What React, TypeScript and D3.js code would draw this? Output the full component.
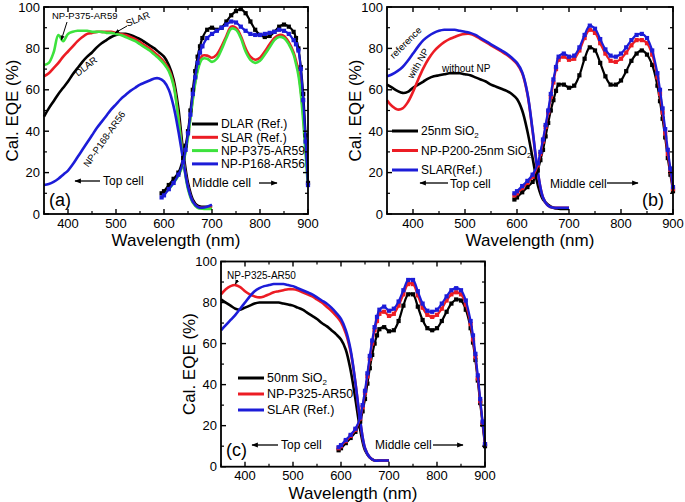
import React from "react";
import * as d3 from "d3";

// wavelengths (nm)
const topNm = d3.range(350, 701, 10);
const midNm = [595, 600, 610, 620, 630, 640, 645, 650, 655, 660, 665, 670, 675, 680, 690, 700, 710, 720, 730, 740, 750, 760, 770, 780, 790, 800, 810, 820, 830, 840, 850, 860, 870, 875, 880, 885, 890, 895, 900];

// panel (a)
const aDlarTop = [47, 51, 54.5, 58, 61, 64, 67.5, 70.5, 73.5, 76, 78, 80.5, 82.5, 84, 85.5, 86.5, 87, 87, 86.5, 85.5, 84.5, 83, 81.5, 80, 78, 76, 72, 65, 51, 30, 15, 7, 4, 3.5, 3.5, 4];
const aSlarTop = [66.5, 68, 70.5, 73, 76, 78.5, 81, 83.5, 85.5, 87, 87.5, 88, 88, 88, 88, 87.5, 87, 86.5, 85.5, 84.5, 83, 81.5, 80, 78, 76, 73.5, 70, 63, 47, 27, 13, 6, 3.5, 3, 3, 3.5];
const aP375Top = [72, 73, 78, 86.5, 83.5, 87, 88, 88.5, 88.5, 88.5, 88, 88, 88, 87.5, 87.5, 87, 86.5, 85.5, 84.5, 83.5, 82, 80.5, 79, 77, 75, 72.5, 69, 62, 46, 26, 12, 5.5, 3, 2.5, 2.5, 2.5];
const aP168Top = [14, 14.5, 15.5, 17, 19, 21, 24, 27.5, 31, 34.5, 38, 41.5, 44.5, 47.5, 50.5, 53, 55.5, 57.5, 59.5, 61, 62.5, 63.5, 64.5, 65.5, 65.5, 64, 60, 52, 40, 26, 13, 6, 3.5, 3, 3.5, 4.5];
const aDlarMid = [10, 11, 14, 17, 20, 27, 33, 40, 50, 60, 69, 76, 81, 85, 89, 90, 89, 90, 93, 96, 98, 99, 97, 93, 89, 86.5, 85.5, 86, 88, 90.5, 91.5, 90.5, 88, 85, 80, 71, 58, 38, 15];
const aSlarMid = [10, 11, 13, 16, 19, 25, 31, 38, 47, 56, 64, 70, 74, 76.5, 76.5, 75.5, 77, 81, 86, 90.5, 90, 86, 80, 76, 74.5, 75.5, 78.5, 82, 85, 86.5, 86, 83, 78, 74, 69, 60, 48, 32, 15];
const aP375Mid = [9, 10, 12, 15, 18.5, 24.5, 30, 37, 46, 55, 63, 69, 73, 75, 75, 73.5, 75, 79.5, 85, 89.5, 89, 85, 78.5, 74.5, 73, 74, 77, 80.5, 84, 85.5, 85, 82, 77, 72.5, 67, 58, 45, 29, 13];
const aP168Mid = [8, 9, 12, 15, 19, 25, 31, 39, 48, 58, 66, 73, 78, 81, 85, 87, 88.5, 90, 91.5, 93, 92.5, 90.5, 88.5, 87, 86.5, 86.5, 87, 87.5, 88, 89, 88.5, 87, 84, 82, 79, 70, 55, 35, 14];

// panel (b)
const bSio2Top = [62.5, 61, 59.5, 58.5, 59, 61, 62.5, 64, 65.5, 66.5, 67, 67.5, 68, 68, 68, 67.5, 67, 66, 65, 64, 62.5, 61.5, 60.5, 59.5, 58, 55.5, 50, 40, 27, 14, 7, 4.5, 3, 2.5, 2.5, 2.5];
const bP200Top = [55, 52, 50.5, 51, 54, 59, 65, 70.5, 75, 78.5, 81, 83, 84.5, 85.5, 86.5, 87, 87, 86, 84.5, 83, 81.5, 80, 78.5, 77, 75, 72.5, 68, 58, 40, 20, 8, 4, 3, 3, 3, 3];
const bSlarTop = [66.5, 67.5, 69, 71, 74, 77.5, 81, 84, 86, 87.5, 88.5, 89, 89, 89, 88.5, 88, 87.5, 86.5, 85, 83.5, 82, 80.5, 79, 77.5, 75.5, 73, 68.5, 58.5, 40.5, 20.5, 8, 4, 3, 3, 3, 3];
const bSio2Mid = [7, 8, 10.5, 13, 15.5, 21, 26, 31, 37.5, 44, 50, 55, 59.5, 62.5, 62.5, 61, 62, 67, 75, 80.5, 79, 73, 66.5, 62.5, 62.5, 64.5, 69, 74, 77.5, 79, 77, 72, 62, 54.5, 46, 37, 27, 19, 11];
const bP200Mid = [9, 10, 12.5, 15, 18, 23.5, 29, 35, 42, 49, 56.5, 63.5, 70, 74.5, 76, 74.5, 75, 79, 85, 89, 87.5, 82.5, 77.5, 74, 73.5, 75, 78, 81.5, 84, 84, 82.5, 77, 66, 58, 49, 39, 29, 20.5, 12];
const bSlarMid = [10, 11, 13.5, 16, 19, 24.5, 30, 36, 43, 50, 58, 65, 71, 76, 77.5, 76, 76.5, 80.5, 86.5, 91, 89.5, 84.5, 79.5, 76.5, 76, 77.5, 80.5, 84, 86.5, 87, 85, 79, 68, 60, 51, 41, 31, 22, 13];

// panel (c)
const cSio2Top = [81.5, 80, 78.5, 77, 76.5, 77.5, 78.5, 79.5, 80, 80, 80, 80, 80, 79.5, 79, 78.5, 77.5, 76.5, 75, 73.5, 72, 70, 68.5, 66.5, 64.5, 62, 57, 47, 33, 18, 8, 4.5, 3, 3, 3, 3];
const cP325Top = [84, 86.5, 88, 88.5, 87.5, 85.5, 84, 83, 82.5, 83, 84, 85, 85.5, 86, 86.5, 86.5, 86, 85, 84, 83, 81.5, 80, 78, 76, 73.5, 70.5, 65, 56, 41, 22, 9, 4.5, 3, 3, 3, 3];
const cSlarTop = [66.5, 69, 71.5, 74, 77, 80, 83, 85.5, 87, 88, 88.5, 89, 89, 89, 88.5, 88, 87, 86, 85, 84, 82.5, 81, 79.5, 77.5, 75, 72, 66.5, 57, 41, 22.5, 9, 4.5, 3, 3, 3, 3];
const cSio2Mid = [8, 9, 11.5, 14, 17, 22, 27, 33, 40.5, 48, 54.5, 60, 64, 67, 68, 66, 66.5, 71, 78.5, 84, 84, 78, 71.5, 67.5, 66.5, 67.5, 71, 75.5, 79.5, 81.5, 81, 76.5, 67.5, 60.5, 52, 42, 31, 20.5, 10];
const cP325Mid = [9, 10, 12.5, 15, 18, 23.5, 29, 36, 44, 52.5, 60, 66.5, 71, 74.5, 75.5, 73.5, 74.5, 78.5, 84, 89, 89, 83.5, 77.5, 74, 73, 74, 77, 81, 84, 85, 84, 79, 69.5, 62, 53.5, 43, 32, 21.5, 11];
const cSlarMid = [9.5, 10.5, 13, 15.5, 18.5, 24, 30, 37, 45.5, 54, 61.5, 68, 73, 76.5, 78, 76, 77, 80.5, 86, 91, 91, 85.5, 79.5, 76, 75.5, 76.5, 79.5, 83, 86, 87, 86, 81, 71, 64, 55, 44.5, 33, 22, 11];

const xTicks = [400, 500, 600, 700, 800, 900];
const yTicks = [0, 20, 40, 60, 80, 100];

const BLACK = "#000";
const RED = "#ec1c24";
const GREEN = "#3de23d";
const BLUE = "#1c1cd8";
const FONT = "'Liberation Sans', Arial, Helvetica, sans-serif";

const Sub = ({ base, sub }) => (
  <>
    {base}
    <tspan dy={3} fontSize={8}>{sub}</tspan>
  </>
);

const Panel = ({ xr, yr, series, legend, legendX, legendY, legendGap, legendSize, children }) => {
  const x = d3.scaleLinear().domain([350, 900]).range(xr);
  const y = d3.scaleLinear().domain([0, 100]).range(yr);
  const line = d3
    .line()
    .x(d => x(d[0]))
    .y(d => y(d[1]))
    .curve(d3.curveCatmullRom.alpha(0.5));

  const xMinor = d3.range(350, 901, 50).filter(v => v % 100 !== 0);
  const yMinor = d3.range(10, 100, 20);

  return (
    <g>
      {series.map((s, i) => {
        const pts = s.nm.map((n, j) => [n, s.v[j]]);
        return (
          <g key={i}>
            <path d={line(pts)} fill="none" stroke={s.color} strokeWidth={s.markers ? 2.2 : 2.6} />
            {s.markers &&
              pts.map((p, j) => (
                <rect key={j} x={x(p[0]) - 2.1} y={y(p[1]) - 2.1} width={4.2} height={4.2} fill={s.color} />
              ))}
          </g>
        );
      })}

      <rect x={xr[0]} y={yr[1]} width={xr[1] - xr[0]} height={yr[0] - yr[1]} fill="none" stroke="#000" strokeWidth={1.8} />

      {xTicks.map(t => (
        <g key={"xt" + t}>
          <line x1={x(t)} x2={x(t)} y1={yr[0]} y2={yr[0] - 5} stroke="#000" strokeWidth={1.4} />
          <line x1={x(t)} x2={x(t)} y1={yr[1]} y2={yr[1] + 5} stroke="#000" strokeWidth={1.4} />
          <text x={x(t)} y={yr[0] + 13.5} textAnchor="middle" fontSize={13}>{t}</text>
        </g>
      ))}
      {xMinor.map(t => (
        <g key={"xm" + t}>
          <line x1={x(t)} x2={x(t)} y1={yr[0]} y2={yr[0] - 3} stroke="#000" strokeWidth={1.2} />
          <line x1={x(t)} x2={x(t)} y1={yr[1]} y2={yr[1] + 3} stroke="#000" strokeWidth={1.2} />
        </g>
      ))}
      {yTicks.map(t => (
        <g key={"yt" + t}>
          <line x1={xr[0]} x2={xr[0] + 5} y1={y(t)} y2={y(t)} stroke="#000" strokeWidth={1.4} />
          <line x1={xr[1]} x2={xr[1] - 5} y1={y(t)} y2={y(t)} stroke="#000" strokeWidth={1.4} />
          <text x={xr[0] - 4} y={y(t) + 4.5} textAnchor="end" fontSize={13}>{t}</text>
        </g>
      ))}
      {yMinor.map(t => (
        <g key={"ym" + t}>
          <line x1={xr[0]} x2={xr[0] + 3} y1={y(t)} y2={y(t)} stroke="#000" strokeWidth={1.2} />
          <line x1={xr[1]} x2={xr[1] - 3} y1={y(t)} y2={y(t)} stroke="#000" strokeWidth={1.2} />
        </g>
      ))}

      <text x={(xr[0] + xr[1]) / 2} y={yr[0] + 32} textAnchor="middle" fontSize={17}>Wavelength (nm)</text>
      <text transform={`translate(${xr[0] - 26},${(yr[0] + yr[1]) / 2}) rotate(-90)`} textAnchor="middle" fontSize={17}>Cal. EQE (%)</text>

      {legend.map((l, i) => (
        <g key={"lg" + i}>
          <line x1={legendX} x2={legendX + 26} y1={legendY + i * legendGap} y2={legendY + i * legendGap} stroke={l.color} strokeWidth={3} />
          <text x={legendX + 29} y={legendY + i * legendGap + 4.3} fontSize={legendSize}>{l.label}</text>
        </g>
      ))}

      {children(x, y)}
    </g>
  );
};

const arrow = "url(#ah)";

export default function App() {
  return (
    <svg width={685} height={502} style={{ position: "absolute", left: 0, top: 0, background: "#fff" }} fontFamily={FONT}>
      <defs>
        <marker id="ah" viewBox="0 0 10 10" refX="9" refY="5" markerWidth="5" markerHeight="5" orient="auto">
          <path d="M0,1 L10,5 L0,9 z" fill="#000" />
        </marker>
      </defs>

      <Panel
        xr={[44, 308]}
        yr={[214, 7]}
        series={[
          { nm: topNm, v: aDlarTop, color: BLACK },
          { nm: topNm, v: aSlarTop, color: RED },
          { nm: topNm, v: aP375Top, color: GREEN },
          { nm: topNm, v: aP168Top, color: BLUE },
          { nm: midNm, v: aSlarMid, color: RED },
          { nm: midNm, v: aP375Mid, color: GREEN },
          { nm: midNm, v: aDlarMid, color: BLACK, markers: true },
          { nm: midNm, v: aP168Mid, color: BLUE, markers: true }
        ]}
        legend={[
          { label: "DLAR (Ref.)", color: BLACK },
          { label: "SLAR (Ref.)", color: RED },
          { label: "NP-P375-AR59", color: GREEN },
          { label: "NP-P168-AR56", color: BLUE }
        ]}
        legendX={192}
        legendY={124}
        legendGap={13.3}
        legendSize={12.2}
      >
        {(x, y) => (
          <g fontSize={9.5}>
            <text x={52} y={18.5}>NP-P375-AR59</text>
            <line x1={67} y1={22} x2={x(386)} y2={y(84)} stroke="#000" strokeWidth={1} markerEnd={arrow} />
            <text transform="translate(139,22) rotate(-22)" textAnchor="middle">SLAR</text>
            <line x1={127} y1={26} x2={x(498)} y2={y(87) - 1} stroke="#000" strokeWidth={1} markerEnd={arrow} />
            <text transform="translate(88,69) rotate(-38)" textAnchor="middle">DLAR</text>
            <text transform="translate(107,141) rotate(-55)" textAnchor="middle">NP-P168-AR56</text>
            <text x={49} y={206} fontSize={18}>(a)</text>
            <line x1={100} y1={181} x2={75} y2={181} stroke="#000" strokeWidth={1.3} markerEnd={arrow} />
            <text x={103} y={185} fontSize={12}>Top cell</text>
            <text x={192} y={187} fontSize={12.5}>Middle cell</text>
            <line x1={259} y1={183} x2={277} y2={183} stroke="#000" strokeWidth={1.3} markerEnd={arrow} />
          </g>
        )}
      </Panel>

      <Panel
        xr={[387, 673]}
        yr={[214, 7]}
        series={[
          { nm: topNm, v: bSio2Top, color: BLACK },
          { nm: topNm, v: bP200Top, color: RED },
          { nm: topNm, v: bSlarTop, color: BLUE },
          { nm: midNm, v: bSio2Mid, color: BLACK, markers: true },
          { nm: midNm, v: bP200Mid, color: RED, markers: true },
          { nm: midNm, v: bSlarMid, color: BLUE, markers: true }
        ]}
        legend={[
          { label: <Sub base="25nm SiO" sub="2" />, color: BLACK },
          { label: <Sub base="NP-P200-25nm SiO" sub="2" />, color: RED },
          { label: "SLAR(Ref.)", color: BLUE }
        ]}
        legendX={392}
        legendY={131}
        legendGap={19.5}
        legendSize={12}
      >
        {() => (
          <g fontSize={10}>
            <text transform="translate(408,45) rotate(-45)" textAnchor="middle" fontSize={9.5}>reference</text>
            <text transform="translate(421,65) rotate(-60)" textAnchor="middle" fontSize={9.5}>with NP</text>
            <text x={442} y={71.5}>without NP</text>
            <text x={642} y={206} fontSize={18}>(b)</text>
            <line x1={448} y1={183} x2={420} y2={183} stroke="#000" strokeWidth={1.3} markerEnd={arrow} />
            <text x={450} y={187.5} fontSize={12}>Top cell</text>
            <text x={550} y={187.5} fontSize={12}>Middle cell</text>
            <line x1={607} y1={183} x2={638} y2={183} stroke="#000" strokeWidth={1.3} markerEnd={arrow} />
          </g>
        )}
      </Panel>

      <Panel
        xr={[221, 485]}
        yr={[466.7, 261.5]}
        series={[
          { nm: topNm, v: cSio2Top, color: BLACK },
          { nm: topNm, v: cP325Top, color: RED },
          { nm: topNm, v: cSlarTop, color: BLUE },
          { nm: midNm, v: cSio2Mid, color: BLACK, markers: true },
          { nm: midNm, v: cP325Mid, color: RED, markers: true },
          { nm: midNm, v: cSlarMid, color: BLUE, markers: true }
        ]}
        legend={[
          { label: <Sub base="50nm SiO" sub="2" />, color: BLACK },
          { label: "NP-P325-AR50", color: RED },
          { label: "SLAR (Ref.)", color: BLUE }
        ]}
        legendX={238}
        legendY={378}
        legendGap={16}
        legendSize={12.5}
      >
        {(x, y) => (
          <g fontSize={10}>
            <text x={227} y={279}>NP-P325-AR50</text>
            <line x1={237.5} y1={280} x2={x(380)} y2={y(88.5) - 1} stroke="#000" strokeWidth={1} markerEnd={arrow} />
            <text x={226} y={456} fontSize={18}>(c)</text>
            <line x1={278} y1={445} x2={252} y2={445} stroke="#000" strokeWidth={1.3} markerEnd={arrow} />
            <text x={281} y={449} fontSize={12}>Top cell</text>
            <text x={375} y={449} fontSize={12}>Middle cell</text>
            <line x1={433} y1={445} x2={463} y2={445} stroke="#000" strokeWidth={1.3} markerEnd={arrow} />
          </g>
        )}
      </Panel>
    </svg>
  );
}
